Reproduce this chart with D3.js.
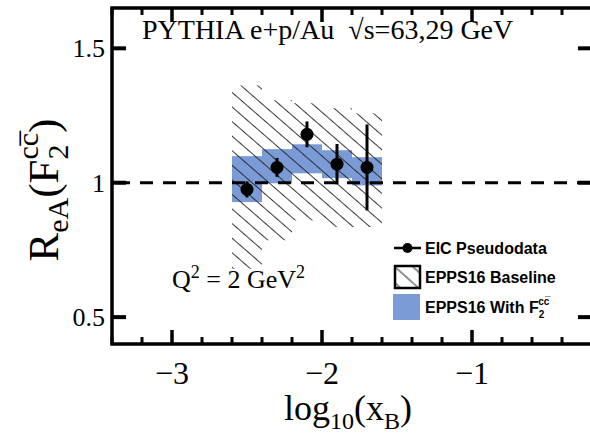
<!DOCTYPE html>
<html><head><meta charset="utf-8">
<script src="https://cdn.jsdelivr.net/npm/d3@7"></script>
<style>html,body{margin:0;padding:0;background:#fff;} svg{display:block;}</style>
</head><body>
<svg id="chart" width="590" height="440"></svg>
<script>
// ---- data ----
const binLow  = [-2.6, -2.4, -2.2, -2.0, -1.8];
const binHigh = [-2.4, -2.2, -2.0, -1.8, -1.6];
const xCenter = [-2.5, -2.3, -2.1, -1.9, -1.7];
const pseudo    = [0.975, 1.057, 1.180, 1.069, 1.057];
const pseudoErr = [0.030, 0.035, 0.048, 0.075, 0.160];
const withLow  = [0.928, 0.998, 1.035, 1.017, 0.990];
const withHigh = [1.099, 1.125, 1.143, 1.121, 1.095];
const baseLow  = [0.680, 0.786, 0.860, 0.835, 0.835];
const baseHigh = [1.362, 1.307, 1.296, 1.277, 1.258];
const xMajorTicks = [-3, -2, -1];
const yMajorTicks = [0.5, 1, 1.5];
const xTickLabels = ["\u22123", "\u22122", "\u22121"];
const yTickLabels = ["0.5", "1", "1.5"];
const legendLabels = ["EIC Pseudodata", "EPPS16 Baseline", "EPPS16 With F"];

const svg = d3.select("#chart");
const x = d3.scaleLinear().domain([-3.4, -0.2]).range([112, 592]);
const y = d3.scaleLinear().domain([0.4, 1.65]).range([344, 8]);
const blue = "#7b9bd6";
const serif = "'Liberation Serif','Times New Roman',serif";
const sans = "'Liberation Sans',Arial,Helvetica,sans-serif";

// hatch pattern
const defs = svg.append("defs");
const pat = defs.append("pattern").attr("id","hatch").attr("patternUnits","userSpaceOnUse")
  .attr("width", 40).attr("height", 11).attr("patternTransform","rotate(41)");
pat.append("line").attr("x1",0).attr("x2",40).attr("y1",5.5).attr("y2",5.5)
  .attr("stroke","#222").attr("stroke-width",0.9);
const pat2 = defs.append("pattern").attr("id","hatchLeg").attr("patternUnits","userSpaceOnUse")
  .attr("width", 40).attr("height", 12).attr("patternTransform","rotate(42)");
pat2.append("line").attr("x1",0).attr("x2",40).attr("y1",6).attr("y2",6)
  .attr("stroke","#222").attr("stroke-width",1);

const idx = d3.range(binLow.length);

// blue band
svg.append("g").selectAll("rect").data(idx).join("rect")
  .attr("x", i => x(binLow[i])).attr("width", i => x(binHigh[i]) - x(binLow[i]))
  .attr("y", i => y(withHigh[i])).attr("height", i => y(withLow[i]) - y(withHigh[i]))
  .attr("fill", blue);

// hatched baseline band
svg.append("g").selectAll("rect").data(idx).join("rect")
  .attr("x", i => x(binLow[i])).attr("width", i => x(binHigh[i]) - x(binLow[i]))
  .attr("y", i => y(baseHigh[i])).attr("height", i => y(baseLow[i]) - y(baseHigh[i]))
  .attr("fill", "url(#hatch)");

// dashed unity line
svg.append("line").attr("x1", x(-3.4)).attr("x2", x(-0.2)).attr("y1", y(1)).attr("y2", y(1))
  .attr("stroke","#000").attr("stroke-width",3).attr("stroke-dasharray","13,10").attr("stroke-dashoffset",-5);

// pseudodata
const pts = svg.append("g");
pts.selectAll("line").data(idx).join("line")
  .attr("x1", i => x(xCenter[i])).attr("x2", i => x(xCenter[i]))
  .attr("y1", i => y(pseudo[i] - pseudoErr[i])).attr("y2", i => y(pseudo[i] + pseudoErr[i]))
  .attr("stroke","#000").attr("stroke-width",3);
pts.selectAll("circle").data(idx).join("circle")
  .attr("cx", i => x(xCenter[i])).attr("cy", i => y(pseudo[i])).attr("r", 6.5).attr("fill","#000");

// axes frame with ticks
const xMinor = d3.range(-3.4, -0.19, 0.2).map(v => +v.toFixed(1)).filter(v => !xMajorTicks.includes(v));
const frame = svg.append("g");
function tickSet(vals, len, sw) {
  frame.append("g").selectAll("line").data(vals).join("line")
    .attr("x1", d => x(d)).attr("x2", d => x(d)).attr("y1", y(0.4)).attr("y2", y(0.4) - len)
    .attr("stroke","#000").attr("stroke-width",sw);
  frame.append("g").selectAll("line").data(vals).join("line")
    .attr("x1", d => x(d)).attr("x2", d => x(d)).attr("y1", y(1.65)).attr("y2", y(1.65) + len)
    .attr("stroke","#000").attr("stroke-width",sw);
}
tickSet(xMajorTicks, 14, 3.5);
tickSet(xMinor, 7, 3);
frame.append("g").selectAll("line").data(yMajorTicks).join("line")
  .attr("x1", x(-3.4)).attr("x2", x(-3.4) + 14).attr("y1", d => y(d)).attr("y2", d => y(d))
  .attr("stroke","#000").attr("stroke-width",4);
frame.append("g").selectAll("line").data(yMajorTicks).join("line")
  .attr("x1", x(-0.2)).attr("x2", x(-0.2) - 14).attr("y1", d => y(d)).attr("y2", d => y(d))
  .attr("stroke","#000").attr("stroke-width",4);
frame.append("rect").attr("x", x(-3.4)).attr("y", y(1.65))
  .attr("width", x(-0.2) - x(-3.4)).attr("height", y(0.4) - y(1.65))
  .attr("fill","none").attr("stroke","#000").attr("stroke-width",3.5);

// tick labels
svg.append("g").selectAll("text").data(xMajorTicks).join("text")
  .attr("x", d => x(d)).attr("y", 384).attr("text-anchor","middle")
  .attr("font-family", serif).attr("font-size", 32).text((d,i) => xTickLabels[i]);
svg.append("g").selectAll("text").data(yMajorTicks).join("text")
  .attr("x", 105).attr("y", d => y(d)).attr("dy","0.35em").attr("text-anchor","end")
  .attr("font-family", serif).attr("font-size", 26).text((d,i) => yTickLabels[i]);

// axis titles
const xl = svg.append("text").attr("x", 348).attr("y", 420).attr("text-anchor","middle")
  .attr("font-family", serif).attr("font-size", 36);
xl.append("tspan").text("log");
xl.append("tspan").attr("font-size", 24).attr("dy", 9).text("10");
xl.append("tspan").attr("dy", -9).text("(x");
xl.append("tspan").attr("font-size", 24).attr("dy", 9).text("B");
xl.append("tspan").attr("dy", -9).text(")");

const yl = svg.append("text").attr("transform","translate(58,190) rotate(-90)").attr("text-anchor","middle")
  .attr("font-family", serif).attr("font-size", 43);
yl.append("tspan").text("R");
yl.append("tspan").attr("font-size", 30).attr("dy", 10).text("eA");
yl.append("tspan").attr("dy", -10).text("(F");
yl.append("tspan").attr("font-size", 30).attr("dy", 10).text("2");
yl.append("tspan").attr("font-size", 30).attr("dx", -15).attr("dy", -30).text("cc\u0305");
yl.append("tspan").attr("dy", 20).text(")");

// title
const tt = svg.append("text").attr("x", 142).attr("y", 39).attr("font-family", serif).attr("font-size", 28);
tt.append("tspan").text("PYTHIA e+p/Au");
tt.append("tspan").attr("dx", 14).text("\u221As=63,29 GeV");

// Q2 text
const qt = svg.append("text").attr("x", 172).attr("y", 288).attr("font-family", serif).attr("font-size", 26);
qt.append("tspan").text("Q");
qt.append("tspan").attr("font-size", 18).attr("dy", -10).text("2");
qt.append("tspan").attr("dy", 10).text(" = 2 GeV");
qt.append("tspan").attr("font-size", 18).attr("dy", -10).text("2");

// legend
const lg = svg.append("g");
const ly = [248, 277, 307];
lg.append("line").attr("x1", 394).attr("x2", 421).attr("y1", ly[0]).attr("y2", ly[0]).attr("stroke","#000").attr("stroke-width",2.5);
lg.append("circle").attr("cx", 407.5).attr("cy", ly[0]).attr("r", 5).attr("fill","#000");
lg.append("rect").attr("x", 395).attr("y", ly[1] - 11).attr("width", 25).attr("height", 22)
  .attr("fill","url(#hatchLeg)").attr("stroke","#000").attr("stroke-width",2.5);
lg.append("rect").attr("x", 393).attr("y", ly[2] - 13).attr("width", 27).attr("height", 26).attr("fill", blue);
lg.selectAll("text.l").data(legendLabels).join("text").attr("class","l")
  .attr("x", 425).attr("y", (d,i) => ly[i]).attr("dy","0.36em")
  .attr("font-family", sans).attr("font-weight","bold").attr("font-size", 16).text(d => d);
const t3 = lg.selectAll("text.l").filter((d,i) => i === 2);
t3.append("tspan").attr("font-size", 10).attr("dy", 5).text("2");
t3.append("tspan").attr("font-size", 10).attr("dx", -6).attr("dy", -13).text("cc\u0305");
</script>
</body></html>
